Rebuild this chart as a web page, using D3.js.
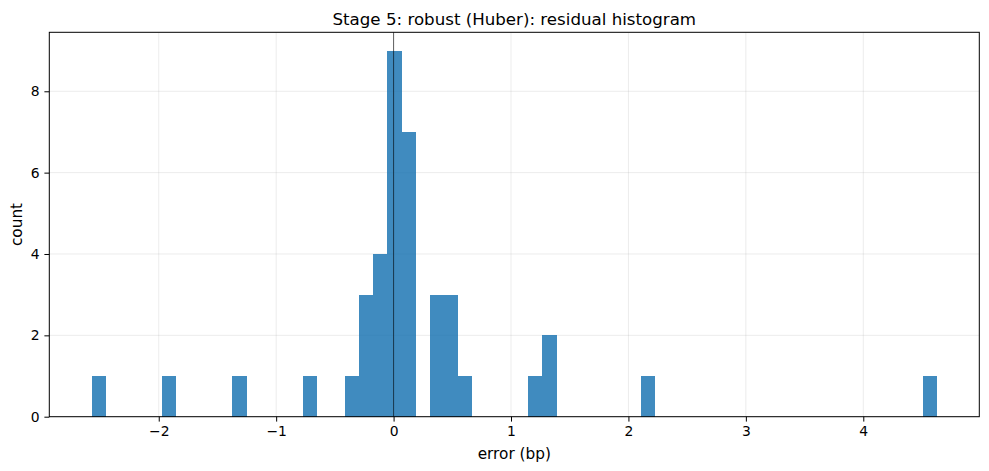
<!DOCTYPE html>
<html>
<head>
<meta charset="utf-8">
<script src="https://cdn.jsdelivr.net/npm/d3@7"></script>
<style>
  body { margin: 0; background: #fff; }
  text { font-family: "DejaVu Sans", sans-serif; fill: #000; }
</style>
</head>
<body>
<svg id="chart" width="989" height="471"></svg>
<script>
// Histogram: 60 bins between data min and max; counts per bin
const binStart = -2.572;
const binEnd = 4.628;
const binCounts = [
  1,0,0,0,0, 1,0,0,0,0, 1,0,0,0,0, 1,0,0,1,3,
  4,9,7,0,3, 3,1,0,0,0, 0,1,2,0,0, 0,0,0,0,1,
  0,0,0,0,0, 0,0,0,0,0, 0,0,0,0,0, 0,0,0,0,1
];
const xTicks = [-2, -1, 0, 1, 2, 3, 4];
const yTicks = [0, 2, 4, 6, 8];
const title = "Stage 5: robust (Huber): residual histogram";
const xLabel = "error (bp)";
const yLabel = "count";

const svg = d3.select("#chart");
const L = 49.3, R = 979.3, T = 32.3, B = 416.7;

const nb = binCounts.length;
const bw = (binEnd - binStart) / nb;
const bins = binCounts.map((c, i) => ({ x0: binStart + i * bw, x1: binStart + (i + 1) * bw, c }));

const span = binEnd - binStart;
const x = d3.scaleLinear().domain([binStart - 0.05 * span, binEnd + 0.05 * span]).range([L, R]);
const ymax = d3.max(binCounts) * 1.05;
const y = d3.scaleLinear().domain([0, ymax]).range([B, T]);

// grid
const grid = svg.append("g");
grid.selectAll(".gx").data(xTicks).enter().append("line")
  .attr("x1", d => x(d)).attr("x2", d => x(d)).attr("y1", T).attr("y2", B)
  .attr("stroke", "#b0b0b0").attr("stroke-opacity", 0.3).attr("stroke-width", 0.8);
grid.selectAll(".gy").data(yTicks).enter().append("line")
  .attr("x1", L).attr("x2", R).attr("y1", d => y(d)).attr("y2", d => y(d))
  .attr("stroke", "#b0b0b0").attr("stroke-opacity", 0.3).attr("stroke-width", 0.8);

// bars
svg.append("g").attr("opacity", 0.85).selectAll("rect").data(bins.filter(b => b.c > 0)).enter().append("rect")
  .attr("x", d => x(d.x0)).attr("width", d => x(d.x1) - x(d.x0))
  .attr("y", d => y(d.c)).attr("height", d => y(0) - y(d.c))
  .attr("fill", "#1f77b4").attr("shape-rendering", "crispEdges");

// zero line
svg.append("line")
  .attr("x1", x(0)).attr("x2", x(0)).attr("y1", T).attr("y2", B)
  .attr("stroke", "#000").attr("stroke-opacity", 0.6).attr("stroke-width", 1);

// axes
const fmt = d => d < 0 ? "\u2212" + Math.abs(d) : String(d);
const xAxis = svg.append("g").attr("transform", `translate(0,${B})`)
  .call(d3.axisBottom(x).tickValues(xTicks).tickFormat(fmt).tickSize(4.9).tickPadding(4.6));
const yAxis = svg.append("g").attr("transform", `translate(${L},0)`)
  .call(d3.axisLeft(y).tickValues(yTicks).tickFormat(fmt).tickSize(4.9).tickPadding(4.9));
[xAxis, yAxis].forEach(a => {
  a.select(".domain").remove();
  a.selectAll(".tick line").attr("stroke", "#000").attr("stroke-width", 1);
  a.selectAll(".tick text").attr("font-size", "13.9px").attr("font-family", "DejaVu Sans").attr("fill", "#000");
});

// frame
svg.append("rect").attr("x", L).attr("y", T).attr("width", R - L).attr("height", B - T)
  .attr("fill", "none").attr("stroke", "#000").attr("stroke-width", 1);

// title and labels
svg.append("text").attr("x", (L + R) / 2).attr("y", 25).attr("text-anchor", "middle")
  .attr("font-size", "16.67px").text(title);
svg.append("text").attr("x", (L + R) / 2).attr("y", 459).attr("text-anchor", "middle")
  .attr("font-size", "15.3px").text(xLabel);
svg.append("text").attr("transform", `translate(22,${(T + B) / 2}) rotate(-90)`)
  .attr("text-anchor", "middle").attr("font-size", "15.3px").text(yLabel);
</script>
</body>
</html>
